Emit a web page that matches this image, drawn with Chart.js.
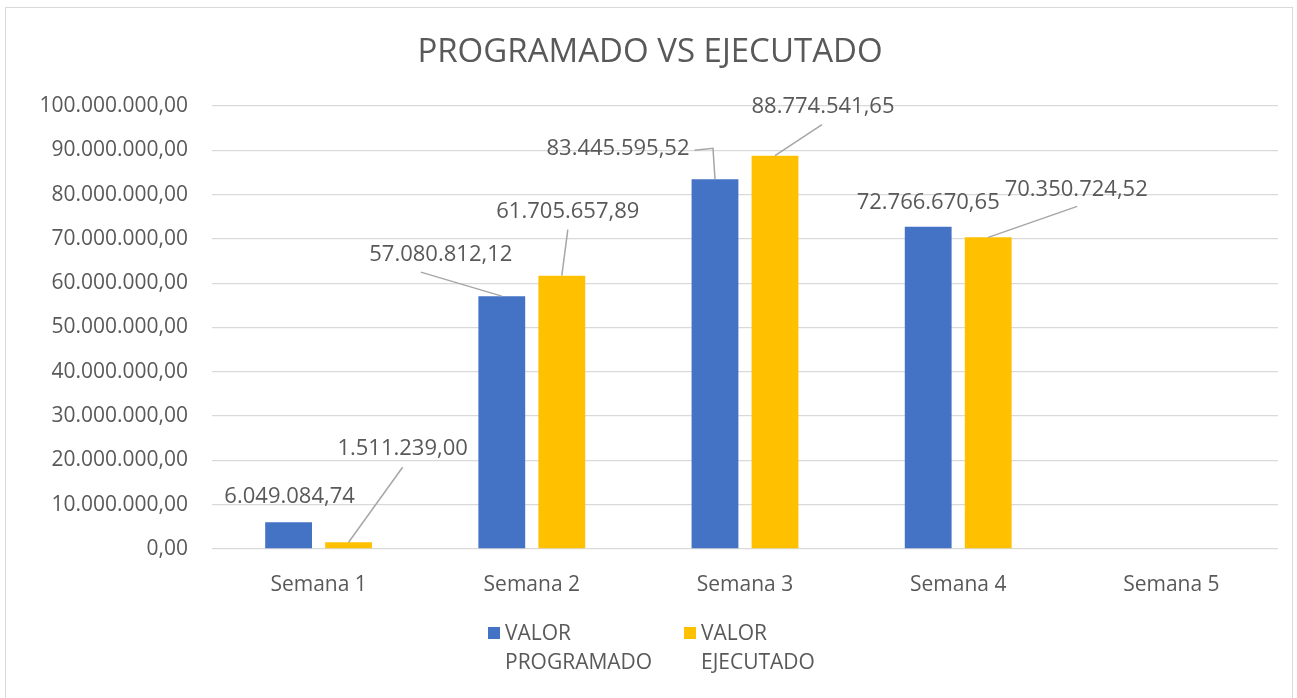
<!DOCTYPE html>
<html>
<head>
<meta charset="utf-8">
<script src="https://cdn.jsdelivr.net/npm/chart.js@4/dist/chart.umd.min.js"></script>
<style>
	html, body { margin: 0; padding: 0; background: #fff; }
	#wrap { position: relative; width: 1297px; height: 698px; }
	#frame { position: absolute; left: 5px; top: 7px; width: 1288px; height: 700px; border: 1px solid #d9d9d9; box-sizing: border-box; }
</style>
</head>
<body>
<div id="wrap">
	<div id="frame"></div>
	<canvas id="chart" width="1297" height="698"></canvas>
</div>
<script>
const categories = ['Semana 1', 'Semana 2', 'Semana 3', 'Semana 4', 'Semana 5'];
const seriesNames = ['VALOR PROGRAMADO', 'VALOR EJECUTADO'];
const programado = [6049084.74, 57080812.12, 83445595.52, 72766670.65, null];
const ejecutado = [1511239.00, 61705657.89, 88774541.65, 70350724.52, null];
const yTicks = [0, 10000000, 20000000, 30000000, 40000000, 50000000, 60000000, 70000000, 80000000, 90000000, 100000000];

const textColor = '#595959';
const fontFamily = '"Open Sans", "Segoe UI", sans-serif';

// es-style number: 1.234.567,89
const formatNumber = (v) => {
	let [ intPart, decPart ] = Number(v).toFixed(2).split('.');
	intPart = intPart.replace(/\B(?=(\d{3})+(?!\d))/g, '.');
	return intPart + ',' + decPart;
};

// where each data label sits, relative to the top of its bar (dataset -> index)
// line: none | straight | elbow ; lx/ly is where the leader line meets the label
const labelPlacement = [
	[
		{ dx: 1, dy: -25, line: 'none' },
		{ dx: -61, dy: -41, line: 'straight', lx: -20, ly: 17 },
		{ dx: -97, dy: -31, line: 'elbow' },
		{ dx: 0, dy: -24, line: 'none' },
	],
	[
		{ dx: 54, dy: -94, line: 'straight', lx: 0, ly: 19 },
		{ dx: 6, dy: -64, line: 'straight', lx: 0, ly: 18 },
		{ dx: 48, dy: -49, line: 'straight', lx: -1, ly: 18 },
		{ dx: 88, dy: -48, line: 'straight', lx: 1, ly: 17 },
	],
];

// data labels with leader lines
let dataLabels = {
	id: 'dataLabels',
	afterDatasetsDraw (chart) {
		let { ctx } = chart;
		ctx.save();
		ctx.font = '22px ' + fontFamily;
		ctx.textAlign = 'center';
		ctx.textBaseline = 'middle';
		chart.data.datasets.forEach((ds, dsIdx) => {
			let meta = chart.getDatasetMeta(dsIdx);
			meta.data.forEach((bar, idx) => {
				let place = labelPlacement[dsIdx][idx];
				if (ds.data[idx] == null || !place) { return; }
				let text = formatNumber(ds.data[idx]);
				let tx = bar.x + place.dx;
				let ty = bar.y + place.dy;

				ctx.strokeStyle = '#a6a6a6';
				ctx.lineWidth = 1.5;
				if (place.line === 'straight') {
					ctx.beginPath();
					ctx.moveTo(bar.x, bar.y);
					ctx.lineTo(tx + place.lx, ty + place.ly);
					ctx.stroke();
				} else if (place.line === 'elbow') {
					let w = ctx.measureText(text).width;
					ctx.beginPath();
					ctx.moveTo(tx + w / 2 + 5, ty + 2);
					ctx.lineTo(bar.x - 2, ty);
					ctx.lineTo(bar.x, bar.y);
					ctx.stroke();
				}

				ctx.fillStyle = textColor;
				ctx.fillText(text, tx, ty);
			});
		});
		ctx.restore();
	},
};

// legend with wrapped labels (VALOR / PROGRAMADO)
let wrappedLegend = {
	id: 'wrappedLegend',
	afterDraw (chart) {
		let { ctx } = chart;
		let items = [ { x: 488, color: chart.data.datasets[0].backgroundColor }, { x: 684, color: chart.data.datasets[1].backgroundColor } ];
		ctx.save();
		ctx.font = '21px ' + fontFamily;
		ctx.textAlign = 'left';
		ctx.textBaseline = 'middle';
		items.forEach((item, idx) => {
			let [ first, ...rest ] = seriesNames[idx].split(' ');
			ctx.fillStyle = item.color;
			ctx.fillRect(item.x, 627, 12, 12);
			ctx.fillStyle = textColor;
			ctx.fillText(first, item.x + 17, 634);
			ctx.fillText(rest.join(' '), item.x + 17, 663);
		});
		ctx.restore();
	},
};

new Chart(document.getElementById('chart'), {
	type: 'bar',
	data: {
		labels: categories,
		datasets: [
			{ label: seriesNames[0], data: programado, backgroundColor: '#4472c4' },
			{ label: seriesNames[1], data: ejecutado, backgroundColor: '#ffc000' },
		],
	},
	options: {
		responsive: false,
		animation: false,
		categoryPercentage: 0.563,
		barPercentage: 0.78,
		layout: {
			// left padding shifts the centred title to where the original has it
			padding: { left: 22, right: 19, top: 0, bottom: 99 },
		},
		plugins: {
			legend: { display: false },
			tooltip: { enabled: false },
			title: {
				display: true,
				text: 'PROGRAMADO VS EJECUTADO',
				color: textColor,
				font: { family: fontFamily, size: 33, weight: 'normal', lineHeight: 1.2 },
				padding: { top: 33, bottom: 33.4 },
			},
		},
		scales: {
			x: {
				grid: { display: false },
				border: { display: false },
				ticks: { color: textColor, font: { family: fontFamily, size: 21 }, padding: 15 },
				afterFit (scale) { scale.height = 50; },
			},
			y: {
				min: 0,
				max: 100000000,
				afterBuildTicks (scale) { scale.ticks = yTicks.map(v => ({ value: v })); },
				grid: { color: '#d9d9d9', lineWidth: 1.3, drawTicks: false },
				border: { display: false },
				ticks: {
					color: textColor,
					font: { family: fontFamily, size: 21 },
					padding: 24,
					callback: (v) => formatNumber(v),
				},
				afterFit (scale) { scale.width = 190; },
			},
		},
	},
	plugins: [ dataLabels, wrappedLegend ],
});
</script>
</body>
</html>
